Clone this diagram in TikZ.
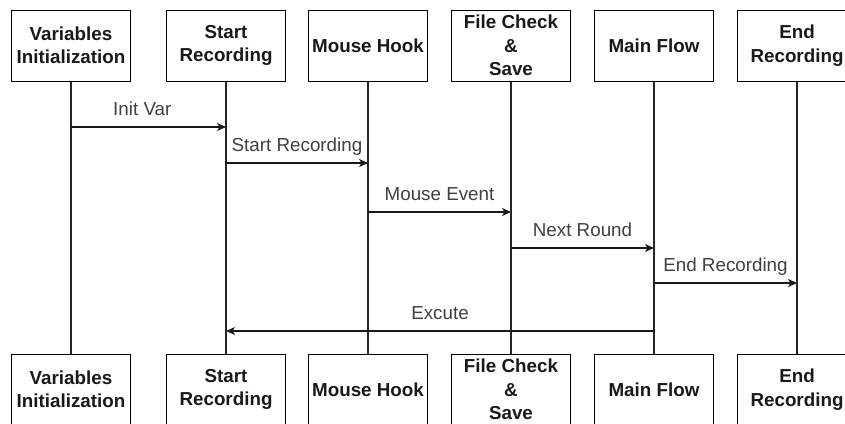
\documentclass[tikz,border=0pt]{standalone}
\usepackage{fontspec}
\setmainfont{Liberation Sans}
\usetikzlibrary{arrows.meta}
\begin{document}
\begin{tikzpicture}[x=1pt,y=-1pt,
  actor/.style={draw=black, line width=1pt, fill=white, minimum width=119pt, minimum height=71pt,
    inner sep=0pt, align=center, font=\fontsize{18.8}{23.5}\selectfont\bfseries, text=black!90},
  lifeline/.style={draw=black!85, line width=1.1pt},
  msg/.style={draw=black!90, line width=1.2pt, -{Stealth[length=9pt,width=8pt,inset=2.5pt]}},
  msglabel/.style={anchor=base, inner sep=0pt, font=\fontsize{18.8}{22}\selectfont, text=black!75}]
\clip (0,0) rectangle (845,423);
\fill[white] (0,0) rectangle (845,423);

% participants, top and bottom
\foreach \n/\x/\txt in {1/71/{Variables\\Initialization}, 2/226/{Start\\Recording},
    3/368/{Mouse Hook}, 4/511/{File Check\\\&\\Save}, 5/654/{Main Flow}, 6/797/{End\\Recording}} {
  \node[actor] (t\n) at (\x,45.5) {\txt};
  \node[actor] (b\n) at (\x,389.5) {\txt};
  \draw[lifeline] (t\n.south) -- (b\n.north);
}

% message end points on the lifelines
\coordinate (m1s) at (t1.south |- 0,127);  \coordinate (m1e) at (t2.south |- 0,127);
\coordinate (m2s) at (t2.south |- 0,163);  \coordinate (m2e) at (t3.south |- 0,163);
\coordinate (m3s) at (t3.south |- 0,212);  \coordinate (m3e) at (t4.south |- 0,212);
\coordinate (m4s) at (t4.south |- 0,248);  \coordinate (m4e) at (t5.south |- 0,248);
\coordinate (m5s) at (t5.south |- 0,283);  \coordinate (m5e) at (t6.south |- 0,283);
\coordinate (m6s) at (t5.south |- 0,331);  \coordinate (m6e) at (t2.south |- 0,331);

% messages
\draw[msg] (m1s) -- node[msglabel, pos=0.46, yshift=11.5pt] (l1) {Init Var} (m1e);
\draw[msg] (m2s) -- node[msglabel, yshift=11.5pt] (l2) {Start Recording} (m2e);
\draw[msg] (m3s) -- node[msglabel, yshift=11.5pt] (l3) {Mouse Event} (m3e);
\draw[msg] (m4s) -- node[msglabel, yshift=11.5pt] (l4) {Next Round} (m4e);
\draw[msg] (m5s) -- node[msglabel, yshift=11.5pt] (l5) {End Recording} (m5e);
\draw[msg] (m6s) -- node[msglabel, yshift=11.5pt] (l6) {Excute} (m6e);
\end{tikzpicture}
\end{document}
